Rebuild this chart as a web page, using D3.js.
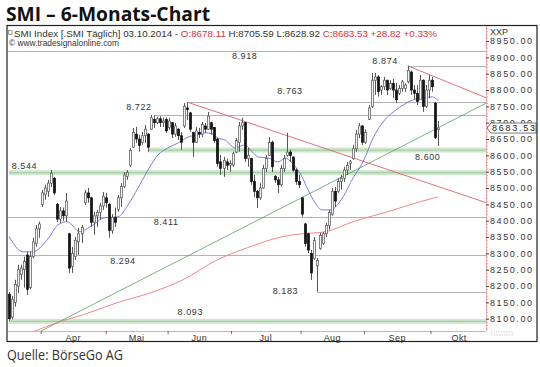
<!DOCTYPE html>
<html>
<head>
<meta charset="utf-8">
<script src="https://cdn.jsdelivr.net/npm/d3@7"></script>
<style>
  body { margin: 0; background: #fff; }
  svg { display: block; }
  text { font-family: "Liberation Sans", Arial, sans-serif; }
</style>
</head>
<body>
<svg id="chart" width="540" height="367"></svg>
<script>
// daily candles, mid March to 03.10.2014
const openP = [8175,8105,8150,8200,8235,8250,8295,8195,8290,8330,8375,8450,8480,8490,8515,8530,8450,8405,8430,8415,
  8360,8260,8290,8335,8360,8455,8485,8470,8395,8415,8425,8445,8470,8450,8370,8410,8435,8470,8505,8535,
  8570,8625,8665,8650,8640,8660,8665,8680,8710,8700,8712,8700,8710,8685,8700,8665,8680,8660,8690,8745,
  8730,8670,8640,8670,8665,8690,8680,8700,8685,8650,8580,8560,8580,8570,8570,8610,8640,8690,8700,8590,
  8590,8520,8490,8470,8500,8560,8600,8640,8535,8525,8510,8560,8600,8610,8595,8555,8520,8470,8390,8360,
  8300,8285,8262,8315,8330,8360,8385,8420,8490,8490,8520,8530,8555,8575,8590,8620,8665,8690,8640,8710,
  8750,8830,8840,8800,8810,8830,8805,8820,8800,8790,8805,8805,8825,8855,8800,8790,8770,8830,8750,8800,
  8830,8760,8678.11];
const highP = [8182,8170,8219,8265,8265,8290,8305,8305,8348,8387,8397,8494,8510,8525,8555,8534,8454,8442,8440,8485,
  8363,8320,8350,8378,8387,8494,8500,8473,8427,8433,8455,8488,8485,8455,8420,8440,8479,8515,8549,8555,
  8623,8684,8687,8663,8672,8693,8668,8724,8722,8718,8720,8716,8716,8715,8702,8699,8684,8672,8760,8763,
  8733,8672,8687,8684,8702,8699,8733,8702,8687,8653,8601,8595,8590,8585,8611,8653,8702,8715,8702,8623,
  8592,8540,8494,8515,8571,8601,8656,8645,8540,8534,8571,8601,8669,8617,8596,8560,8540,8473,8393,8363,
  8311,8350,8286,8363,8366,8393,8433,8500,8503,8531,8540,8565,8580,8586,8632,8678,8699,8693,8680,8754,
  8852,8852,8846,8815,8840,8831,8830,8834,8822,8815,8831,8820,8874,8860,8815,8815,8846,8833,8815,8846,
  8840,8763,8705.59];
const lowP = [8093,8098,8137,8179,8219,8195,8173,8190,8285,8320,8348,8442,8464,8473,8503,8479,8396,8393,8400,8396,
  8240,8240,8280,8296,8332,8448,8455,8381,8357,8381,8402,8433,8440,8348,8360,8381,8427,8442,8500,8525,
  8565,8623,8638,8611,8632,8638,8611,8678,8684,8695,8687,8687,8668,8678,8653,8657,8647,8617,8684,8708,
  8672,8595,8638,8653,8656,8669,8678,8663,8638,8565,8540,8534,8555,8550,8565,8607,8611,8678,8580,8565,
  8510,8473,8439,8464,8498,8549,8598,8549,8516,8485,8505,8549,8596,8580,8550,8510,8500,8412,8320,8300,
  8219,8280,8183,8311,8326,8350,8372,8415,8442,8485,8495,8519,8540,8555,8586,8611,8653,8632,8635,8708,
  8745,8785,8780,8785,8800,8785,8800,8775,8760,8785,8795,8794,8820,8785,8770,8754,8770,8733,8745,8775,
  8795,8650,8628.92];
const closeP = [8100,8160,8205,8250,8255,8275,8190,8290,8335,8375,8390,8485,8500,8515,8545,8485,8405,8430,8415,8460,
  8255,8300,8340,8360,8380,8485,8470,8395,8415,8425,8445,8475,8455,8370,8410,8395,8470,8505,8540,8548,
  8615,8670,8650,8630,8660,8680,8625,8715,8700,8712,8700,8705,8675,8705,8665,8690,8660,8640,8750,8740,
  8680,8640,8675,8665,8695,8680,8720,8680,8645,8575,8560,8585,8570,8575,8605,8645,8690,8700,8590,8600,
  8520,8490,8470,8500,8560,8590,8640,8565,8525,8510,8560,8590,8610,8600,8555,8520,8510,8420,8330,8310,
  8240,8340,8278,8355,8360,8385,8425,8490,8460,8520,8530,8555,8570,8580,8620,8665,8690,8640,8670,8745,
  8830,8840,8795,8810,8830,8800,8820,8800,8770,8805,8825,8815,8860,8800,8790,8765,8830,8750,8800,8830,
  8810,8654.71,8683.53];

// month boundaries (candle index) and names
const monthStart = [10.5, 32, 52.5, 73.5, 96.5, 117.5, 139.5];
const monthNames = ["Apr", "Mai", "Jun", "Jul", "Aug", "Sep", "Okt"];
const yTicks = d3.range(8100, 8951, 50);

// horizontal support / resistance lines
const levelValues = [8918, 8874, 8763, 8722, 8411, 8294, 8183];
const levelLabels = ["8.918", "8.874", "8.763", "8.722", "8.411", "8.294", "8.183"];
const levelFrom = [0, 132, 59, 48, 0, 0, 102];
// green zones
const bandValues = [8616, 8547, 8092];
const bandLabels = ["8.600", "8.544", "8.093"];
const bandFrom = [46, 0, 0];

// trend lines [index, price]
const trendRed = [[59, 8763], [158, 8455]];
const trendRedShort = [[132, 8874], [158, 8776]];
const trendGreen = [[0, 8012], [158, 8760]];

// moving averages
const maShortIdx = [0, 4.6, 7.9, 12.6, 16.2, 19.2, 23.5, 26.8, 31.8, 36.1, 39.4, 42.7, 46, 49.3, 52.6, 56, 59.3, 62.6, 64.9, 67.2, 69.2,
  71.5, 74.8, 78.1, 80.5, 82.5, 85.8, 89.1, 91.4, 93.7, 97, 99, 101.3, 103.6, 106.3, 110.6, 113.9, 117.2, 120.5, 123.8, 127.2,
  130.5, 133.8, 137.1, 140.1, 142];
const maShortVal = [8351, 8305, 8305, 8341, 8387, 8397, 8366, 8381, 8409, 8412, 8448, 8500, 8555, 8601, 8623, 8638, 8656, 8663, 8669, 8666, 8653,
  8647, 8623, 8632, 8611, 8595, 8592, 8580, 8592, 8577, 8534, 8494, 8455, 8433, 8433, 8473, 8531, 8580, 8653, 8702, 8733,
  8754, 8770, 8776, 8779, 8768];
const maLongIdx = [7, 9.6, 16.9, 24.5, 35.8, 46.7, 57.6, 68.9, 79.8, 90.4, 97, 104.6, 113.9, 125.2, 136.1, 142];
const maLongVal = [8057, 8066, 8091, 8112, 8149, 8179, 8219, 8280, 8320, 8351, 8360, 8366, 8397, 8427, 8458, 8473];

// label placement: [candle index, px offset from line]
const levelLabelPos = [[78, 7.5], [124.5, -1.5], [93, -8], [43, -5], [52, 7.7], [37.7, 8.5], [91.5, 2.8]];
const bandLabelPos = [[138.6, 9.7], [5.1, -3.2], [60, -6.5]];

const svg = d3.select("#chart");
const plot = { left: 8, right: 486, top: 26, bottom: 331 };

const x = d3.scaleLinear().domain([0, closeP.length - 1]).range([9, 438]);
const y = d3.scaleLinear().domain([8100, 8950]).range([318.7, 41]);

// title
svg.append("text")
  .attr("x", 6).attr("y", 21)
  .attr("textLength", 204).attr("lengthAdjust", "spacingAndGlyphs")
  .style("font-family", "'Open Sans', sans-serif")
  .style("font-weight", 700).style("font-size", "19px").attr("fill", "#111")
  .text("SMI \u2013 6-Monats-Chart");

svg.append("text")
  .attr("x", 7).attr("y", 360)
  .attr("textLength", 116).attr("lengthAdjust", "spacingAndGlyphs")
  .style("font-family", "'Open Sans', sans-serif")
  .style("font-size", "14px").attr("fill", "#333")
  .text("Quelle: BörseGo AG");

svg.append("defs").append("clipPath").attr("id", "plotClip")
  .append("rect")
  .attr("x", plot.left).attr("y", plot.top)
  .attr("width", plot.right - plot.left).attr("height", plot.bottom - plot.top);

const g = svg.append("g").attr("clip-path", "url(#plotClip)");

// green zones
bandValues.forEach((v, i) => {
  g.append("rect")
    .attr("x", x(bandFrom[i])).attr("y", y(v) - 2.5)
    .attr("width", plot.right - x(bandFrom[i])).attr("height", 5)
    .attr("fill", "#cfe7cf");
  g.append("line")
    .attr("x1", x(bandFrom[i])).attr("x2", plot.right)
    .attr("y1", y(v)).attr("y2", y(v))
    .attr("stroke", "#9fcb9f").attr("stroke-width", 1);
});

// gray levels
levelValues.forEach((v, i) => {
  g.append("line")
    .attr("x1", levelFrom[i] === 0 ? plot.left : x(levelFrom[i])).attr("x2", plot.right)
    .attr("y1", Math.round(y(v)) + 0.5).attr("y2", Math.round(y(v)) + 0.5)
    .attr("stroke", "#b4b4b4").attr("stroke-width", 1);
});

// level labels
const lbl = svg.append("g")
  .style("font-size", "9px").style("letter-spacing", "0.6px").attr("fill", "#333")
  .attr("text-anchor", "middle");
levelLabels.forEach((t, i) => {
  lbl.append("text")
    .attr("x", x(levelLabelPos[i][0])).attr("y", y(levelValues[i]) + levelLabelPos[i][1])
    .text(t);
});
bandLabels.forEach((t, i) => {
  lbl.append("text")
    .attr("x", x(bandLabelPos[i][0])).attr("y", y(bandValues[i]) + bandLabelPos[i][1])
    .text(t);
});

// trend lines
const seg = d3.line().x(d => x(d[0])).y(d => y(d[1]));
g.append("path").attr("d", seg(trendGreen)).attr("fill", "none").attr("stroke", "#5d9e62").attr("stroke-width", 0.8);
g.append("path").attr("d", seg(trendRed)).attr("fill", "none").attr("stroke", "#e2606e").attr("stroke-width", 0.9);
g.append("path").attr("d", seg(trendRedShort)).attr("fill", "none").attr("stroke", "#e2606e").attr("stroke-width", 0.9);

// moving averages
const maLine = d3.line().curve(d3.curveMonotoneX).x(d => x(d[0])).y(d => y(d[1]));
g.append("path").attr("d", maLine(maLongIdx.map((d, i) => [d, maLongVal[i]])))
  .attr("fill", "none").attr("stroke", "#f07884").attr("stroke-width", 0.9);
g.append("path").attr("d", maLine(maShortIdx.map((d, i) => [d, maShortVal[i]])))
  .attr("fill", "none").attr("stroke", "#6f6fe0").attr("stroke-width", 0.9);

// candles
const candles = closeP.map((c, i) => ({ i, o: openP[i], h: highP[i], l: lowP[i], c }));
const cg = g.append("g");
cg.selectAll("line.wick").data(candles).join("line")
  .attr("class", "wick")
  .attr("x1", d => Math.round(x(d.i)) + 0.5).attr("x2", d => Math.round(x(d.i)) + 0.5)
  .attr("y1", d => y(d.h)).attr("y2", d => y(d.l))
  .attr("stroke", "#555").attr("stroke-width", 1);
cg.selectAll("rect.body").data(candles).join("rect")
  .attr("class", "body")
  .attr("x", d => Math.round(x(d.i)) - 0.6)
  .attr("y", d => y(Math.max(d.o, d.c)))
  .attr("width", 2.2)
  .attr("height", d => Math.max(1, Math.abs(y(d.o) - y(d.c))))
  .attr("fill", d => d.c >= d.o ? "#f4f4f4" : "#151515")
  .attr("stroke", d => d.c >= d.o ? "#555" : "#151515")
  .attr("stroke-width", 0.7);

// right axis
const axisR = svg.append("g").attr("transform", `translate(${plot.right},0)`);
axisR.append("line").attr("x1", 0.5).attr("x2", 0.5).attr("y1", plot.top).attr("y2", plot.bottom)
  .attr("stroke", "#eaa6b2");
axisR.append("g")
  .call(d3.axisRight(y).tickValues(d3.range(8070, 8991, 10)).tickSize(2).tickFormat(""))
  .call(s => s.select(".domain").remove())
  .call(s => s.selectAll("line").attr("stroke", "#eaa6b2"));
axisR.append("g")
  .call(d3.axisRight(y).tickValues(yTicks).tickSize(3).tickPadding(1).tickFormat(d3.format(".2f")))
  .call(s => s.select(".domain").remove())
  .call(s => s.selectAll("line").attr("stroke", "#444"))
  .call(s => s.selectAll("text")
    .attr("fill", "#333").style("font-size", "9px")
    .attr("textLength", 42).attr("lengthAdjust", "spacing"));
svg.append("text").attr("x", 490).attr("y", 35).style("font-size", "9px").attr("fill", "#333").text("XXP");

// last price marker
const last = closeP[closeP.length - 1];
const ly = y(last);
svg.append("path")
  .attr("d", `M${plot.right + 1},${ly} L${plot.right + 5},${ly - 5} L536,${ly - 5} L536,${ly + 5} L${plot.right + 5},${ly + 5} Z`)
  .attr("fill", "#fff").attr("stroke", "#555").attr("stroke-width", 0.8);
svg.append("text").attr("x", plot.right + 6).attr("y", ly + 3.2)
  .style("font-size", "9px").attr("fill", "#222")
  .attr("textLength", 43).attr("lengthAdjust", "spacing")
  .text(last.toFixed(2));

// bottom axis
const axisB = svg.append("g").attr("transform", `translate(0,${plot.bottom})`);
axisB.append("line").attr("x1", plot.left).attr("x2", plot.right).attr("y1", 0.5).attr("y2", 0.5)
  .attr("stroke", "#eaa6b2");
axisB.append("g")
  .call(d3.axisBottom(x).tickValues(monthStart).tickSize(3).tickFormat(""))
  .call(s => s.select(".domain").remove())
  .call(s => s.selectAll("line").attr("stroke", "#666"));
const monthMid = monthStart.map((m, i) => i < monthStart.length - 1 ? (m + monthStart[i + 1]) / 2 : m + 9.5);
axisB.selectAll("text.month").data(monthNames).join("text")
  .attr("class", "month")
  .attr("x", (d, i) => x(monthMid[i])).attr("y", 9.5)
  .attr("text-anchor", "middle").style("font-size", "9px").style("letter-spacing", "0.4px")
  .attr("fill", "#333").text(d => d);
svg.append("rect").attr("x", 491).attr("y", 332).attr("width", 22).attr("height", 3)
  .attr("fill", "none").attr("stroke", "#bbb").attr("stroke-width", 0.6).attr("stroke-dasharray", "1.5,1");

// header inside the frame
const first = candles[candles.length - 1];
const prev = closeP[closeP.length - 2];
const chg = last - prev;
const head = svg.append("text").attr("x", 14).attr("y", 36.5)
  .style("font-size", "9px").attr("fill", "#333")
  .attr("textLength", 423).attr("lengthAdjust", "spacingAndGlyphs");
head.append("tspan").text("SMI Index [.SMI  Täglich] 03.10.2014 - ");
head.append("tspan").attr("fill", "#e0303c").text("O:" + first.o.toFixed(2));
head.append("tspan").text(" H:" + first.h.toFixed(2) + " L:" + first.l.toFixed(2) + " ");
head.append("tspan").attr("fill", "#e0303c")
  .text("C:" + first.c.toFixed(2) + " +" + chg.toFixed(2) + " +" + (chg / prev * 100).toFixed(2) + "%");
svg.append("rect").attr("x", 8.5).attr("y", 30.5).attr("width", 3.5).attr("height", 4)
  .attr("fill", "none").attr("stroke", "#777").attr("stroke-width", 0.7);
svg.append("text").attr("x", 9).attr("y", 46)
  .style("font-size", "9px").attr("fill", "#333")
  .attr("textLength", 110).attr("lengthAdjust", "spacingAndGlyphs")
  .text("© www.tradesignalonline.com");

// frame
svg.append("rect").attr("x", 7).attr("y", 25.5).attr("width", 530).attr("height", 316)
  .attr("fill", "none").attr("stroke", "#222").attr("stroke-width", 1.2);
</script>
</body>
</html>
